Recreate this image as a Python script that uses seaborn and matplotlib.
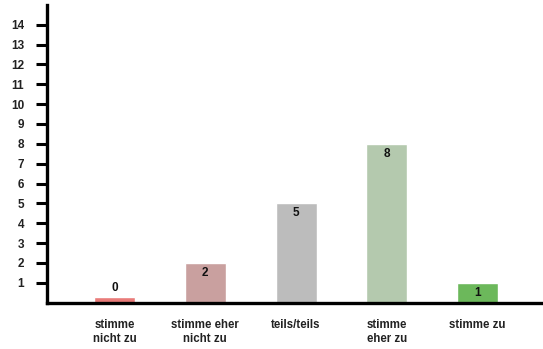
import matplotlib
matplotlib.use("Agg")
import matplotlib.pyplot as plt
import seaborn as sns
import pandas as pd

# answer categories and counts
categories = ["stimme\nnicht zu", "stimme eher\nnicht zu", "teils/teils", "stimme\neher zu", "stimme zu"]
counts = [0, 2, 5, 8, 1]
colors = ["#e97b79", "#c9a09f", "#bcbcbc", "#b4c9ae", "#6cb85b"]
y_ticks = list(range(1, 15))

sns.set_theme(style="white")
plt.rcParams["font.family"] = ["Liberation Sans", "DejaVu Sans"]

df = pd.DataFrame({"cat": categories, "n": counts})
# zero answers still get a small stub so the bar is visible
df["h"] = df["n"].clip(lower=0.3)

fig = plt.figure(figsize=(5.43, 3.49), dpi=100)
ax = fig.add_axes([0.0866, 0.1332, 0.9134, 0.8525])

sns.barplot(data=df, x="cat", y="h", hue="cat", palette=colors, order=categories,
            width=0.45, legend=False, ax=ax, saturation=1)

for i, (v, h) in enumerate(zip(df["n"], df["h"])):
    if v > 0:
        ax.text(i, h - 0.2, str(v), ha="center", va="top", fontsize=8.5, fontweight="bold", color="#111111")
    else:
        ax.text(i, h + 0.15, str(v), ha="center", va="bottom", fontsize=8.5, fontweight="bold", color="#111111")

ax.set_ylim(0, 15)
ax.set_xlim(-0.744, 4.72)
ax.set_yticks(y_ticks)
ax.set_yticklabels([str(t) for t in y_ticks], fontsize=8.5, color="#222222", fontweight="bold")
ax.tick_params(axis="y", direction="out", length=8, width=2.2, color="black", pad=8.5, left=True)
ax.tick_params(axis="x", length=0, pad=12, labelsize=8.3, labelcolor="#222222")
for lab in ax.get_xticklabels():
    lab.set_fontweight("bold")
    lab.set_linespacing(1.25)
ax.set_xlabel("")
ax.set_ylabel("")

for side in ["top", "right"]:
    ax.spines[side].set_visible(False)
for side in ["left", "bottom"]:
    ax.spines[side].set_linewidth(2.4)
    ax.spines[side].set_color("black")

fig.savefig("out.png", dpi=100)
